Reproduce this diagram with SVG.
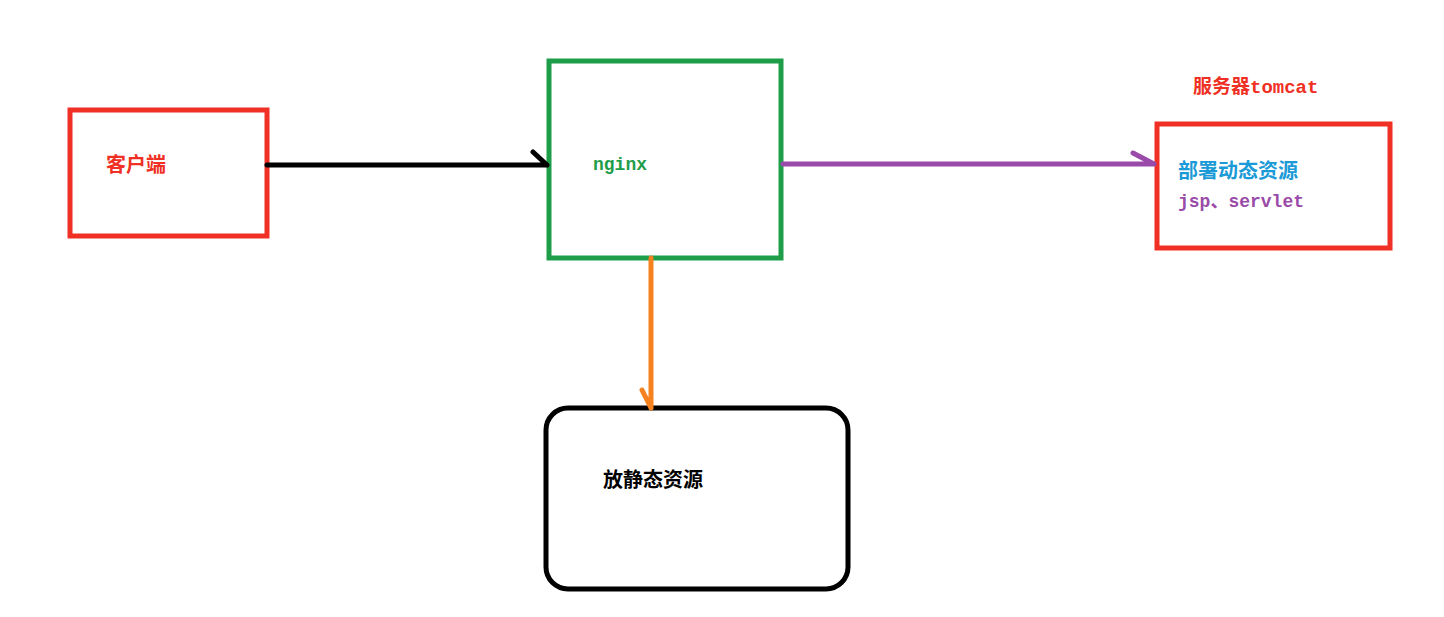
<svg xmlns="http://www.w3.org/2000/svg" width="1444" height="617" viewBox="0 0 1444 617">
<style>
.box{fill:none;stroke-width:5}
.c{fill:none;stroke-width:5;stroke-linecap:round;stroke-linejoin:round}
.cjk{font-family:"Liberation Mono","Noto Sans CJK SC",monospace;font-weight:bold}
</style>
<rect width="1444" height="617" fill="#fff"/>
<g id="client"><rect class="box" x="70" y="110" width="197" height="126" stroke="#f03024"/>
<text class="cjk" x="106" y="172" font-size="20" fill="#f03024">客户端</text></g>
<g id="nginx"><rect class="box" x="549" y="61" width="232" height="197" stroke="#1f9e4a"/>
<text class="cjk" x="593" y="170" font-size="18" fill="#1f9e4a">nginx</text></g>
<g id="tomcat"><text class="cjk" x="1193" y="93" font-size="19" fill="#f03024">服务器tomcat</text>
<rect class="box" x="1157" y="124" width="233" height="124" stroke="#f03024"/>
<text class="cjk" x="1178" y="178" font-size="20" fill="#1a9ad6">部署动态资源</text>
<text class="cjk" x="1178" y="207" font-size="18" fill="#9a4aa8">jsp、servlet</text></g>
<g id="static"><rect class="box" x="546" y="408" width="302" height="181" rx="22" stroke="#000"/>
<text class="cjk" x="603" y="487" font-size="20" fill="#000">放静态资源</text></g>
<g id="connectors">
<path class="c" d="M267 165H547M533 152L547 165" stroke="#000"/>
<path class="c" d="M783 164H1154M1133 153L1154 164" stroke="#9a4aa8"/>
<path class="c" d="M651 258V408M642 390L651 408" stroke="#f5821f"/>
</g>
</svg>
